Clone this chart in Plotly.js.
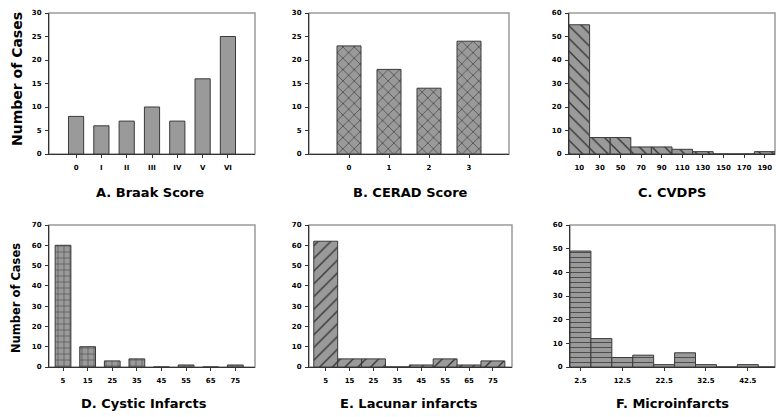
<!DOCTYPE html>
<html>
<head>
<meta charset="utf-8">
<script src="https://cdn.plot.ly/plotly-3.0.1.min.js"></script>
<style>
  body { margin: 0; background: #fff; }
  #chart { width: 782px; height: 417px; }
</style>
</head>
<body>
<div id="chart"></div>
<script>
// A. Braak score
const braakCats = ['0', 'I', 'II', 'III', 'IV', 'V', 'VI'];
const braakCounts = [8, 6, 7, 10, 7, 16, 25];

// B. CERAD score
const ceradCats = ['0', '1', '2', '3'];
const ceradCounts = [23, 18, 14, 24];

// C. CVDPS (bins of 20)
const cvdpsBins = [10, 30, 50, 70, 90, 110, 130, 150, 170, 190];
const cvdpsCounts = [55, 7, 7, 3, 3, 2, 1, 0, 0, 1];

// D. Cystic infarcts
const cysticBins = [5, 15, 25, 35, 45, 55, 65, 75];
const cysticCounts = [60, 10, 3, 4, 0, 1, 0, 1];

// E. Lacunar infarcts
const lacunarBins = [5, 15, 25, 35, 45, 55, 65, 75];
const lacunarCounts = [62, 4, 4, 0, 1, 4, 1, 3];

// F. Microinfarcts (bins of 5)
const microBins = [2.5, 7.5, 12.5, 17.5, 22.5, 27.5, 32.5, 37.5, 42.5, 47.5];
const microCounts = [49, 12, 4, 5, 1, 6, 1, 0, 1, 0];
const microTicks = [2.5, 12.5, 22.5, 32.5, 42.5];

const W = 782, H = 417;
const FONT = 'DejaVu Sans, Liberation Sans, sans-serif';
const BAR_FILL = '#9a9a9a';
const BAR_LINE = '#3a3a3a';

function px(x) { return x / W; }
function py(y) { return 1 - y / H; }

function bar(x, y, xa, ya, shape, width, size) {
  const marker = { color: BAR_FILL, line: { color: BAR_LINE, width: 1 } };
  if (shape) marker.pattern = { shape, fgcolor: '#333', bgcolor: BAR_FILL, size, solidity: 0.15 };
  return { type: 'bar', x, y, xaxis: xa, yaxis: ya, width, marker };
}

const data = [
  bar(braakCats, braakCounts, 'x', 'y', '', 0.6),
  bar(ceradCats, ceradCounts, 'x2', 'y2', 'x', 0.6, 8),
  bar(cvdpsBins, cvdpsCounts, 'x3', 'y3', '\\', 20, 9),
  bar(cysticBins, cysticCounts, 'x4', 'y4', '+', 6.4, 6),
  bar(lacunarBins, lacunarCounts, 'x5', 'y5', '/', 10, 9),
  bar(microBins, microCounts, 'x6', 'y6', '-', 5, 5)
];

const tickFont = { family: FONT, size: 7, color: '#000', weight: 'bold' };

function xax(n, domain, extra) {
  return Object.assign({
    anchor: n === 1 ? 'y' : 'y' + n,
    domain: [px(domain[0]), px(domain[1])],
    showline: true, linecolor: '#333', linewidth: 1,
    ticks: 'outside', ticklen: 3, tickcolor: '#333',
    ticklabelstandoff: 4,
    showgrid: false, zeroline: false,
    tickfont: tickFont, fixedrange: true
  }, extra);
}
function yax(n, domain, range, dtick) {
  return {
    anchor: n === 1 ? 'x' : 'x' + n,
    domain: [py(domain[1]), py(domain[0])],
    range, dtick, tick0: 0,
    showline: true, linecolor: '#333', linewidth: 1,
    ticks: 'outside', ticklen: 3, tickcolor: '#333',
    ticklabelstandoff: 2,
    showgrid: false, zeroline: false,
    tickfont: tickFont, fixedrange: true
  };
}

const rowTop = [13, 154], rowBot = [225, 367];

const layout = {
  width: W, height: H,
  margin: { l: 0, r: 0, t: 0, b: 0 },
  paper_bgcolor: '#fff', plot_bgcolor: '#fff',
  showlegend: false,
  bargap: 0,
  font: { family: FONT, color: '#000' },
  xaxis: xax(1, [49, 255], { type: 'category', range: [-1.07, 7.07] }),
  yaxis: yax(1, rowTop, [0, 30], 5),
  xaxis2: xax(2, [309, 509], { type: 'category', range: [-1, 4] }),
  yaxis2: yax(2, rowTop, [0, 30], 5),
  xaxis3: xax(3, [569, 775], { range: [0, 200], tickvals: cvdpsBins }),
  yaxis3: yax(3, rowTop, [0, 60], 10),
  xaxis4: xax(4, [49, 255], { range: [-0.7, 83], tickvals: cysticBins }),
  yaxis4: yax(4, rowBot, [0, 70], 10),
  xaxis5: xax(5, [309, 512], { range: [-2, 83], tickvals: lacunarBins }),
  yaxis5: yax(5, rowBot, [0, 70], 10),
  xaxis6: xax(6, [570, 775], { range: [0, 49], tickvals: microTicks }),
  yaxis6: yax(6, rowBot, [0, 60], 10),
  shapes: ['', '2', '3', '4', '5', '6'].map(s => ({
    type: 'rect', xref: 'x' + s + ' domain', yref: 'y' + s + ' domain',
    x0: 0, x1: 1, y0: 0, y1: 1,
    line: { color: '#9a9a9a', width: 1.5 }, layer: 'below'
  })),
  annotations: [
    ['A. Braak Score', 150, 192],
    ['B. CERAD Score', 410, 192],
    ['C. CVDPS', 672, 192],
    ['D. Cystic Infarcts', 144, 403],
    ['E. Lacunar infarcts', 409, 403],
    ['F. Microinfarcts', 672, 403]
  ].map(([text, x, y]) => ({
    text, xref: 'paper', yref: 'paper', x: px(x), y: py(y),
    xanchor: 'center', yanchor: 'middle', showarrow: false,
    font: { family: FONT, size: 13, weight: 'bold', color: '#000' }
  })).concat([
    ['Number of Cases', 17, 79, 14],
    ['Number of Cases', 16, 298, 11.5]
  ].map(([text, x, y, size]) => ({
    text, xref: 'paper', yref: 'paper', x: px(x), y: py(y),
    xanchor: 'center', yanchor: 'middle', showarrow: false, textangle: -90,
    font: { family: FONT, size, weight: 'bold', color: '#000' }
  })))
};

Plotly.newPlot('chart', data, layout, { displayModeBar: false, staticPlot: true });
</script>
</body>
</html>
